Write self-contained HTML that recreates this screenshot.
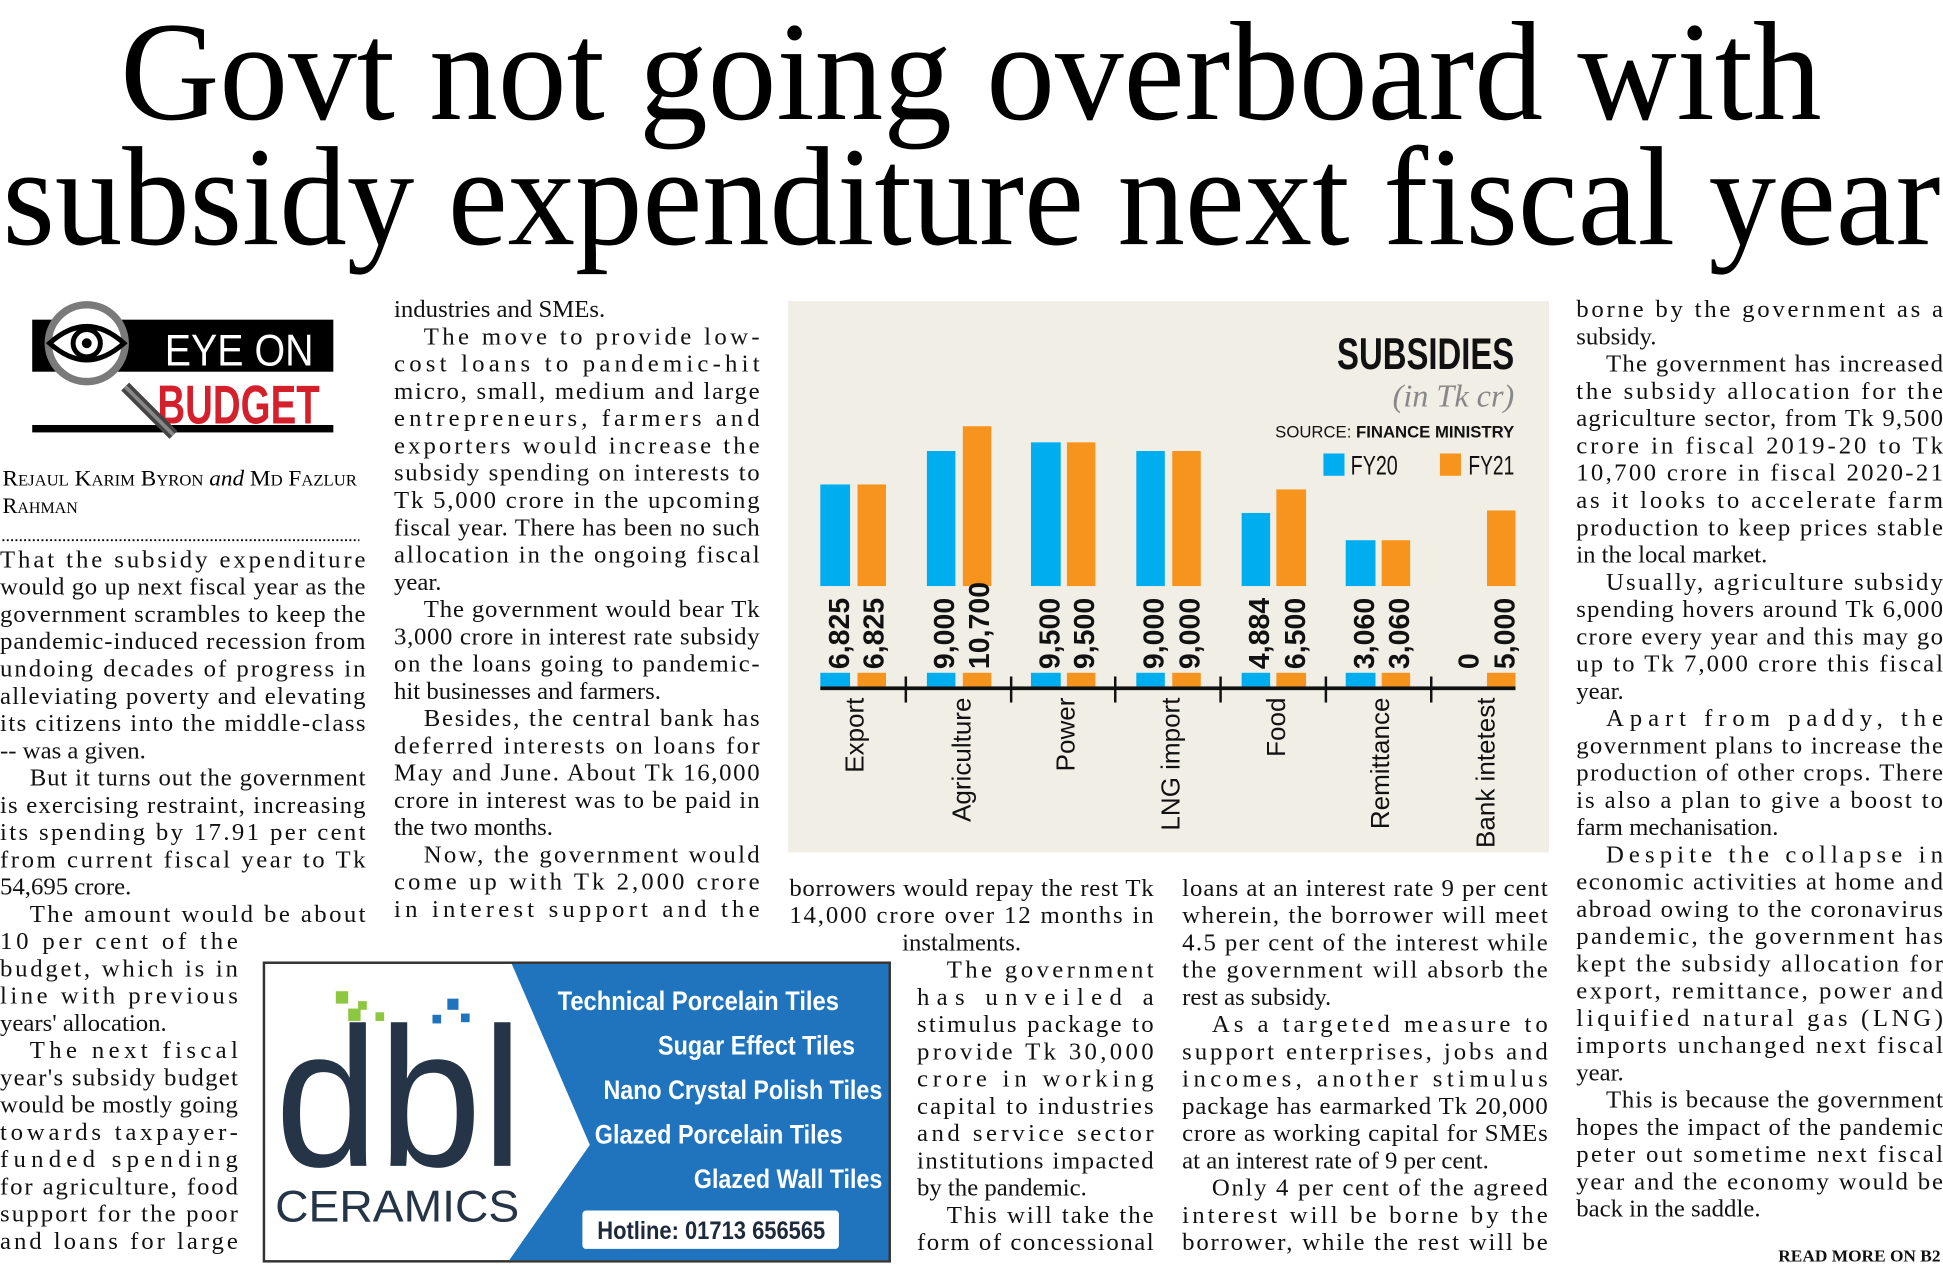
<!DOCTYPE html>
<html><head><meta charset="utf-8"><style>
html,body{margin:0;padding:0;background:#fff;}
svg{display:block;}
.b{font-family:"Liberation Serif",serif;font-size:20px;fill:#111;}
.h{font-family:"Liberation Serif",serif;font-size:114px;fill:#000;}
.c{font-family:"Liberation Sans Narrow","Liberation Sans",sans-serif;}
</style></head><body>
<svg width="1943" height="1270" viewBox="0 0 1568 1025" preserveAspectRatio="none" xmlns="http://www.w3.org/2000/svg">
<rect width="1568" height="1025" fill="#fff"/>
<!-- headline -->
<text class="h" x="97" y="96" textLength="1373" lengthAdjust="spacingAndGlyphs">Govt not going overboard with</text>
<text class="h" x="2" y="197" textLength="1564" lengthAdjust="spacingAndGlyphs">subsidy expenditure next fiscal year</text>

<!-- logo -->
<rect x="26" y="258" width="243" height="42" fill="#000"/>
<rect x="26" y="343" width="243" height="6" fill="#000"/>
<text x="133" y="295" font-family="Liberation Sans,sans-serif" font-size="36" fill="#fff" textLength="120" lengthAdjust="spacingAndGlyphs">EYE ON</text>
<text x="127" y="342" font-family="Liberation Sans,sans-serif" font-weight="bold" font-size="44" fill="#d4202a" textLength="131" lengthAdjust="spacingAndGlyphs">BUDGET</text>
<line x1="101" y1="312" x2="140" y2="351" stroke="#444" stroke-width="9"/>
<line x1="101" y1="312" x2="140" y2="351" stroke="#888" stroke-width="3"/>
<circle cx="70" cy="277" r="31" fill="#fff" stroke="#7a7a7a" stroke-width="6"/>
<path d="M40 277 Q70 250 100 277 Q70 304 40 277Z" fill="#fff" stroke="#000" stroke-width="4"/>
<circle cx="70" cy="277" r="11" fill="#fff" stroke="#000" stroke-width="4"/>
<circle cx="70" cy="277" r="4" fill="#000"/>

<!-- byline -->
<text x="2" y="392" font-family="Liberation Serif,serif" font-size="18" fill="#000" font-variant="small-caps" textLength="286" lengthAdjust="spacingAndGlyphs">Rejaul Karim Byron <tspan font-style="italic" font-variant="normal">and</tspan> Md Fazlur</text>
<text x="2" y="414" font-family="Liberation Serif,serif" font-size="18" fill="#000" font-variant="small-caps">Rahman</text>
<line x1="2" y1="436" x2="290" y2="436" stroke="#000" stroke-width="1.5" stroke-dasharray="1.5 2"/>

<!-- column 1 -->
<g class="b">
<text x="0" y="458" textLength="295" lengthAdjust="spacing">That the subsidy expenditure</text>
<text x="0" y="480" textLength="295" lengthAdjust="spacing">would go up next fiscal year as the</text>
<text x="0" y="502" textLength="295" lengthAdjust="spacing">government scrambles to keep the</text>
<text x="0" y="524" textLength="295" lengthAdjust="spacing">pandemic-induced recession from</text>
<text x="0" y="546" textLength="295" lengthAdjust="spacing">undoing decades of progress in</text>
<text x="0" y="568" textLength="295" lengthAdjust="spacing">alleviating poverty and elevating</text>
<text x="0" y="590" textLength="295" lengthAdjust="spacing">its citizens into the middle-class</text>
<text x="0" y="612">-- was a given.</text>
<text x="24" y="634" textLength="271" lengthAdjust="spacing">But it turns out the government</text>
<text x="0" y="656" textLength="295" lengthAdjust="spacing">is exercising restraint, increasing</text>
<text x="0" y="678" textLength="295" lengthAdjust="spacing">its spending by 17.91 per cent</text>
<text x="0" y="700" textLength="295" lengthAdjust="spacing">from current fiscal year to Tk</text>
<text x="0" y="722">54,695 crore.</text>
<text x="24" y="744" textLength="271" lengthAdjust="spacing">The amount would be about</text>
<text x="0" y="766" textLength="192" lengthAdjust="spacing">10 per cent of the</text>
<text x="0" y="788" textLength="192" lengthAdjust="spacing">budget, which is in</text>
<text x="0" y="810" textLength="192" lengthAdjust="spacing">line with previous</text>
<text x="0" y="832">years' allocation.</text>
<text x="24" y="854" textLength="168" lengthAdjust="spacing">The next fiscal</text>
<text x="0" y="876" textLength="192" lengthAdjust="spacing">year's subsidy budget</text>
<text x="0" y="898" textLength="192" lengthAdjust="spacing">would be mostly going</text>
<text x="0" y="920" textLength="192" lengthAdjust="spacing">towards taxpayer-</text>
<text x="0" y="942" textLength="192" lengthAdjust="spacing">funded spending</text>
<text x="0" y="964" textLength="192" lengthAdjust="spacing">for agriculture, food</text>
<text x="0" y="986" textLength="192" lengthAdjust="spacing">support for the poor</text>
<text x="0" y="1008" textLength="192" lengthAdjust="spacing">and loans for large</text>
</g>

<!-- column 2 -->
<g class="b">
<text x="318" y="256">industries and SMEs.</text>
<text x="342" y="278" textLength="271" lengthAdjust="spacing">The move to provide low-</text>
<text x="318" y="300" textLength="295" lengthAdjust="spacing">cost loans to pandemic-hit</text>
<text x="318" y="322" textLength="295" lengthAdjust="spacing">micro, small, medium and large</text>
<text x="318" y="344" textLength="295" lengthAdjust="spacing">entrepreneurs, farmers and</text>
<text x="318" y="366" textLength="295" lengthAdjust="spacing">exporters would increase the</text>
<text x="318" y="388" textLength="295" lengthAdjust="spacing">subsidy spending on interests to</text>
<text x="318" y="410" textLength="295" lengthAdjust="spacing">Tk 5,000 crore in the upcoming</text>
<text x="318" y="432" textLength="295" lengthAdjust="spacing">fiscal year. There has been no such</text>
<text x="318" y="454" textLength="295" lengthAdjust="spacing">allocation in the ongoing fiscal</text>
<text x="318" y="476">year.</text>
<text x="342" y="498" textLength="271" lengthAdjust="spacing">The government would bear Tk</text>
<text x="318" y="520" textLength="295" lengthAdjust="spacing">3,000 crore in interest rate subsidy</text>
<text x="318" y="542" textLength="295" lengthAdjust="spacing">on the loans going to pandemic-</text>
<text x="318" y="564">hit businesses and farmers.</text>
<text x="342" y="586" textLength="271" lengthAdjust="spacing">Besides, the central bank has</text>
<text x="318" y="608" textLength="295" lengthAdjust="spacing">deferred interests on loans for</text>
<text x="318" y="630" textLength="295" lengthAdjust="spacing">May and June. About Tk 16,000</text>
<text x="318" y="652" textLength="295" lengthAdjust="spacing">crore in interest was to be paid in</text>
<text x="318" y="674">the two months.</text>
<text x="342" y="696" textLength="271" lengthAdjust="spacing">Now, the government would</text>
<text x="318" y="718" textLength="295" lengthAdjust="spacing">come up with Tk 2,000 crore</text>
<text x="318" y="740" textLength="295" lengthAdjust="spacing">in interest support and the</text>
</g>

<!-- column 3 -->
<g class="b">
<text x="637" y="723" textLength="294" lengthAdjust="spacing">borrowers would repay the rest Tk</text>
<text x="637" y="745" textLength="294" lengthAdjust="spacing">14,000 crore over 12 months in</text>
<text x="728" y="767">instalments.</text>
<text x="764" y="789" textLength="167" lengthAdjust="spacing">The government</text>
<text x="740" y="811" textLength="191" lengthAdjust="spacing">has unveiled a</text>
<text x="740" y="833" textLength="191" lengthAdjust="spacing">stimulus package to</text>
<text x="740" y="855" textLength="191" lengthAdjust="spacing">provide Tk 30,000</text>
<text x="740" y="877" textLength="191" lengthAdjust="spacing">crore in working</text>
<text x="740" y="899" textLength="191" lengthAdjust="spacing">capital to industries</text>
<text x="740" y="921" textLength="191" lengthAdjust="spacing">and service sector</text>
<text x="740" y="943" textLength="191" lengthAdjust="spacing">institutions impacted</text>
<text x="740" y="965">by the pandemic.</text>
<text x="764" y="987" textLength="167" lengthAdjust="spacing">This will take the</text>
<text x="740" y="1009" textLength="191" lengthAdjust="spacing">form of concessional</text>
</g>

<!-- column 4 -->
<g class="b">
<text x="954" y="723" textLength="295" lengthAdjust="spacing">loans at an interest rate 9 per cent</text>
<text x="954" y="745" textLength="295" lengthAdjust="spacing">wherein, the borrower will meet</text>
<text x="954" y="767" textLength="295" lengthAdjust="spacing">4.5 per cent of the interest while</text>
<text x="954" y="789" textLength="295" lengthAdjust="spacing">the government will absorb the</text>
<text x="954" y="811">rest as subsidy.</text>
<text x="978" y="833" textLength="271" lengthAdjust="spacing">As a targeted measure to</text>
<text x="954" y="855" textLength="295" lengthAdjust="spacing">support enterprises, jobs and</text>
<text x="954" y="877" textLength="295" lengthAdjust="spacing">incomes, another stimulus</text>
<text x="954" y="899" textLength="295" lengthAdjust="spacing">package has earmarked Tk 20,000</text>
<text x="954" y="921" textLength="295" lengthAdjust="spacing">crore as working capital for SMEs</text>
<text x="954" y="943">at an interest rate of 9 per cent.</text>
<text x="978" y="965" textLength="271" lengthAdjust="spacing">Only 4 per cent of the agreed</text>
<text x="954" y="987" textLength="295" lengthAdjust="spacing">interest will be borne by the</text>
<text x="954" y="1009" textLength="295" lengthAdjust="spacing">borrower, while the rest will be</text>
</g>

<!-- column 5 -->
<g class="b">
<text x="1272" y="256" textLength="296" lengthAdjust="spacing">borne by the government as a</text>
<text x="1272" y="278">subsidy.</text>
<text x="1296" y="300" textLength="272" lengthAdjust="spacing">The government has increased</text>
<text x="1272" y="322" textLength="296" lengthAdjust="spacing">the subsidy allocation for the</text>
<text x="1272" y="344" textLength="296" lengthAdjust="spacing">agriculture sector, from Tk 9,500</text>
<text x="1272" y="366" textLength="296" lengthAdjust="spacing">crore in fiscal 2019-20 to Tk</text>
<text x="1272" y="388" textLength="296" lengthAdjust="spacing">10,700 crore in fiscal 2020-21</text>
<text x="1272" y="410" textLength="296" lengthAdjust="spacing">as it looks to accelerate farm</text>
<text x="1272" y="432" textLength="296" lengthAdjust="spacing">production to keep prices stable</text>
<text x="1272" y="454">in the local market.</text>
<text x="1296" y="476" textLength="272" lengthAdjust="spacing">Usually, agriculture subsidy</text>
<text x="1272" y="498" textLength="296" lengthAdjust="spacing">spending hovers around Tk 6,000</text>
<text x="1272" y="520" textLength="296" lengthAdjust="spacing">crore every year and this may go</text>
<text x="1272" y="542" textLength="296" lengthAdjust="spacing">up to Tk 7,000 crore this fiscal</text>
<text x="1272" y="564">year.</text>
<text x="1296" y="586" textLength="272" lengthAdjust="spacing">Apart from paddy, the</text>
<text x="1272" y="608" textLength="296" lengthAdjust="spacing">government plans to increase the</text>
<text x="1272" y="630" textLength="296" lengthAdjust="spacing">production of other crops. There</text>
<text x="1272" y="652" textLength="296" lengthAdjust="spacing">is also a plan to give a boost to</text>
<text x="1272" y="674">farm mechanisation.</text>
<text x="1296" y="696" textLength="272" lengthAdjust="spacing">Despite the collapse in</text>
<text x="1272" y="718" textLength="296" lengthAdjust="spacing">economic activities at home and</text>
<text x="1272" y="740" textLength="296" lengthAdjust="spacing">abroad owing to the coronavirus</text>
<text x="1272" y="762" textLength="296" lengthAdjust="spacing">pandemic, the government has</text>
<text x="1272" y="784" textLength="296" lengthAdjust="spacing">kept the subsidy allocation for</text>
<text x="1272" y="806" textLength="296" lengthAdjust="spacing">export, remittance, power and</text>
<text x="1272" y="828" textLength="296" lengthAdjust="spacing">liquified natural gas (LNG)</text>
<text x="1272" y="850" textLength="296" lengthAdjust="spacing">imports unchanged next fiscal</text>
<text x="1272" y="872">year.</text>
<text x="1296" y="894" textLength="272" lengthAdjust="spacing">This is because the government</text>
<text x="1272" y="916" textLength="296" lengthAdjust="spacing">hopes the impact of the pandemic</text>
<text x="1272" y="938" textLength="296" lengthAdjust="spacing">peter out sometime next fiscal</text>
<text x="1272" y="960" textLength="296" lengthAdjust="spacing">year and the economy would be</text>
<text x="1272" y="982">back in the saddle.</text>
</g>
<text x="1566" y="1018" text-anchor="end" font-family="Liberation Serif,serif" font-size="14" font-weight="bold" fill="#111">READ MORE ON B2</text>

<!-- chart -->
<rect x="636" y="243" width="614" height="445" fill="#f1eee5"/>
<text x="1222" y="298" text-anchor="end" class="c" font-weight="bold" font-size="36" fill="#111" textLength="143" lengthAdjust="spacingAndGlyphs">SUBSIDIES</text>
<text x="1222" y="328" text-anchor="end" font-family="Liberation Serif,serif" font-style="italic" font-size="26" fill="#888">(in Tk cr)</text>
<text x="1222" y="353" text-anchor="end" font-family="Liberation Sans,sans-serif" font-size="13.5" fill="#111">SOURCE: <tspan font-weight="bold">FINANCE MINISTRY</tspan></text>
<rect x="1068" y="366" width="17" height="18" fill="#00aeef"/>
<text x="1090" y="383" class="c" font-size="22" fill="#111" textLength="38" lengthAdjust="spacingAndGlyphs">FY20</text>
<rect x="1162" y="366" width="17" height="18" fill="#f7941e"/>
<text x="1185" y="383" class="c" font-size="22" fill="#111" textLength="37" lengthAdjust="spacingAndGlyphs">FY21</text>
<g>
<rect x="662" y="391" width="24" height="82" fill="#00aeef"/><rect x="692" y="391" width="23" height="82" fill="#f7941e"/>
<rect x="748" y="364" width="23" height="109" fill="#00aeef"/><rect x="777" y="344" width="23" height="129" fill="#f7941e"/>
<rect x="832" y="357" width="24" height="116" fill="#00aeef"/><rect x="861" y="357" width="23" height="116" fill="#f7941e"/>
<rect x="917" y="364" width="23" height="109" fill="#00aeef"/><rect x="946" y="364" width="23" height="109" fill="#f7941e"/>
<rect x="1002" y="414" width="23" height="59" fill="#00aeef"/><rect x="1030" y="395" width="24" height="78" fill="#f7941e"/>
<rect x="1086" y="436" width="24" height="37" fill="#00aeef"/><rect x="1115" y="436" width="23" height="37" fill="#f7941e"/>
<rect x="1200" y="412" width="23" height="61" fill="#f7941e"/>
<!-- stubs -->
<rect x="662" y="543" width="24" height="11" fill="#00aeef"/><rect x="692" y="543" width="23" height="11" fill="#f7941e"/>
<rect x="748" y="543" width="23" height="11" fill="#00aeef"/><rect x="777" y="543" width="23" height="11" fill="#f7941e"/>
<rect x="832" y="543" width="24" height="11" fill="#00aeef"/><rect x="861" y="543" width="23" height="11" fill="#f7941e"/>
<rect x="917" y="543" width="23" height="11" fill="#00aeef"/><rect x="946" y="543" width="23" height="11" fill="#f7941e"/>
<rect x="1002" y="543" width="23" height="11" fill="#00aeef"/><rect x="1030" y="543" width="24" height="11" fill="#f7941e"/>
<rect x="1086" y="543" width="24" height="11" fill="#00aeef"/><rect x="1115" y="543" width="23" height="11" fill="#f7941e"/>
<rect x="1200" y="543" width="23" height="11" fill="#f7941e"/>
</g>
<rect x="662" y="554" width="561" height="3" fill="#111"/>
<g stroke="#111" stroke-width="2">
<line x1="731" y1="546" x2="731" y2="567"/><line x1="816" y1="546" x2="816" y2="567"/><line x1="900" y1="546" x2="900" y2="567"/>
<line x1="985" y1="546" x2="985" y2="567"/><line x1="1070" y1="546" x2="1070" y2="567"/><line x1="1155" y1="546" x2="1155" y2="567"/>
</g>
<g font-family="Liberation Sans,sans-serif" font-weight="bold" font-size="23" fill="#111" text-anchor="start">
<text transform="translate(685,540) rotate(-90)">6,825</text>
<text transform="translate(713,540) rotate(-90)">6,825</text>
<text transform="translate(770,540) rotate(-90)">9,000</text>
<text transform="translate(798,540) rotate(-90)">10,700</text>
<text transform="translate(855,540) rotate(-90)">9,500</text>
<text transform="translate(883,540) rotate(-90)">9,500</text>
<text transform="translate(939,540) rotate(-90)">9,000</text>
<text transform="translate(968,540) rotate(-90)">9,000</text>
<text transform="translate(1024,540) rotate(-90)">4,884</text>
<text transform="translate(1053,540) rotate(-90)">6,500</text>
<text transform="translate(1109,540) rotate(-90)">3,060</text>
<text transform="translate(1137,540) rotate(-90)">3,060</text>
<text transform="translate(1193,540) rotate(-90)">0</text>
<text transform="translate(1222,540) rotate(-90)">5,000</text>
</g>
<g class="c" font-size="21" fill="#111" text-anchor="end">
<text transform="translate(697,563) rotate(-90)">Export</text>
<text transform="translate(783,563) rotate(-90)">Agriculture</text>
<text transform="translate(867,563) rotate(-90)">Power</text>
<text transform="translate(952,563) rotate(-90)">LNG import</text>
<text transform="translate(1037,563) rotate(-90)">Food</text>
<text transform="translate(1121,563) rotate(-90)">Remittance</text>
<text transform="translate(1206,563) rotate(-90)">Bank intetest</text>
</g>

<!-- ad -->
<rect x="213" y="777" width="505" height="241" fill="#fff" stroke="#333" stroke-width="2"/>
<polygon points="413,778 717,778 717,1017 411,1017 476,924" fill="#1f74bd"/>
<g fill="#8dc63f"><rect x="271" y="800" width="10" height="10"/><rect x="289" y="808" width="7" height="7"/><rect x="281" y="814" width="10" height="10"/><rect x="303" y="817" width="7" height="7"/></g>
<g fill="#1f74bd"><rect x="361" y="806" width="9" height="9"/><rect x="349" y="819" width="7" height="7"/><rect x="372" y="818" width="7" height="7"/></g>
<text x="222" y="941" font-family="Liberation Sans,sans-serif" font-size="160" fill="#253446" textLength="200" lengthAdjust="spacingAndGlyphs">dbl</text>
<text x="222" y="986" font-family="Liberation Sans,sans-serif" font-size="36" fill="#253446" textLength="197" lengthAdjust="spacingAndGlyphs">CERAMICS</text>
<g class="c" font-weight="bold" font-size="22" fill="#fff">
<text x="450" y="815" textLength="227" lengthAdjust="spacingAndGlyphs">Technical Porcelain Tiles</text>
<text x="531" y="851" textLength="159" lengthAdjust="spacingAndGlyphs">Sugar Effect Tiles</text>
<text x="487" y="887" textLength="225" lengthAdjust="spacingAndGlyphs">Nano Crystal Polish Tiles</text>
<text x="480" y="923" textLength="200" lengthAdjust="spacingAndGlyphs">Glazed Porcelain Tiles</text>
<text x="560" y="959" textLength="152" lengthAdjust="spacingAndGlyphs">Glazed Wall Tiles</text>
</g>
<rect x="470" y="977" width="207" height="31" rx="3" fill="#fff"/>
<text x="482" y="1000" class="c" font-weight="bold" font-size="20" fill="#1d2a3c" textLength="184" lengthAdjust="spacingAndGlyphs">Hotline: 01713 656565</text>
</svg>
</body></html>
